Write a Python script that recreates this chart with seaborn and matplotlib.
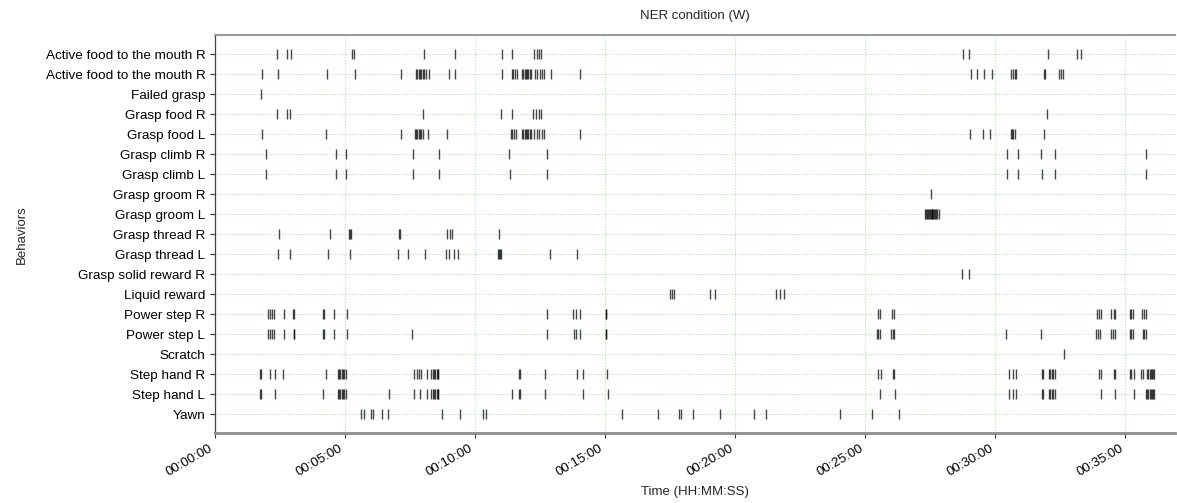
"""
Ethogram of the NER condition (W): behavior events over the session time.
"""

import matplotlib
matplotlib.use("Agg")
import matplotlib.pyplot as plt
from matplotlib.ticker import FuncFormatter, MultipleLocator
import pandas as pd
import seaborn as sns

# behaviors, top to bottom
behaviors = [
    "Active food to the mouth R",
    "Active food to the mouth R",
    "Failed grasp",
    "Grasp food R",
    "Grasp food L",
    "Grasp climb R",
    "Grasp climb L",
    "Grasp groom R",
    "Grasp groom L",
    "Grasp thread R",
    "Grasp thread L",
    "Grasp solid reward R",
    "Liquid reward",
    "Power step R",
    "Power step L",
    "Scratch",
    "Step hand R",
    "Step hand L",
    "Yawn",
]

# event onsets in seconds, one list per behavior
active_food_r1 = [144, 167, 175, 316, 321, 481, 553, 661, 686, 736, 742, 748, 753,
                  1726, 1739, 1922, 1988, 1997]
active_food_r2 = [109, 146, 258, 322, 429, 464, 467, 470, 473, 476, 479, 482, 487, 493,
                  539, 553, 661, 684, 687, 691, 696, 708, 711, 714, 717, 720, 723, 726,
                  729, 738, 743, 749, 755, 760, 774, 843, 1743, 1758, 1774, 1792, 1836,
                  1840, 1845, 1847, 1913, 1915, 1948, 1952, 1957]
failed_grasp = [106]
grasp_food_r = [142, 166, 173, 479, 660, 686, 734, 741, 747, 753, 1920]
grasp_food_l = [109, 256, 428, 461, 464, 467, 470, 473, 476, 480, 492, 536, 682, 685,
                689, 694, 708, 711, 714, 717, 720, 723, 726, 729, 736, 742, 748, 754,
                760, 841, 1741, 1771, 1789, 1836, 1839, 1842, 1846, 1913]
grasp_climb_r = [117, 278, 302, 456, 516, 678, 766, 1827, 1853, 1906, 1937, 2147]
grasp_climb_l = [117, 280, 302, 456, 516, 680, 766, 1828, 1853, 1907, 1937, 2147]
grasp_groom_r = [1651]
grasp_groom_l = [1639, 1641, 1643, 1645, 1647, 1649, 1651, 1653, 1655, 1657, 1659, 1661,
                 1663, 1665, 1671]
grasp_thread_r = [148, 265, 309, 311, 314, 424, 427, 535, 541, 547, 655]
grasp_thread_l = [145, 172, 260, 311, 422, 445, 485, 532, 539, 551, 560, 652, 655, 658,
                  660, 772, 836]
grasp_solid_reward_r = [1723, 1739]
liquid_reward = [1050, 1054, 1059, 1141, 1154, 1295, 1303, 1312]
power_step_r = [122, 127, 131, 136, 159, 181, 183, 248, 251, 275, 304, 767, 827, 832,
                843, 902, 903, 1529, 1533, 1562, 1567, 2035, 2039, 2044, 2068, 2073,
                2077, 2111, 2114, 2117, 2138, 2143, 2147]
power_step_l = [122, 127, 131, 136, 159, 182, 183, 248, 252, 275, 305, 455, 767, 828,
                832, 841, 902, 903, 1527, 1530, 1534, 1559, 1563, 1567, 1825, 1905,
                2033, 2037, 2042, 2067, 2071, 2076, 2111, 2114, 2117, 2140, 2144, 2147]
scratch = [1958]
step_hand_r = [104, 105, 126, 138, 156, 256, 283, 286, 289, 292, 295, 298, 302, 460,
               466, 471, 476, 488, 499, 502, 505, 508, 511, 514, 515, 702, 703, 761,
               835, 849, 904, 1529, 1536, 1565, 1566, 1831, 1840, 1849, 1909, 1910,
               1924, 1927, 1930, 1933, 1937, 2039, 2044, 2074, 2077, 2110, 2114, 2120,
               2136, 2142, 2150, 2153, 2156, 2159, 2162, 2165, 2167]
step_hand_l = [104, 105, 138, 248, 283, 286, 289, 292, 295, 298, 302, 401, 459, 473,
               488, 499, 502, 505, 508, 511, 514, 515, 685, 702, 703, 761, 850, 906,
               1535, 1568, 1831, 1840, 1849, 1909, 1910, 1924, 1927, 1930, 1933, 1937,
               2044, 2077, 2120, 2147, 2150, 2153, 2156, 2159, 2162, 2165, 2167]
yawn = [336, 344, 359, 364, 385, 400, 524, 565, 618, 625, 940, 1022, 1070, 1074, 1102,
        1166, 1243, 1271, 1443, 1516, 1578]

events = [
    active_food_r1, active_food_r2, failed_grasp, grasp_food_r, grasp_food_l,
    grasp_climb_r, grasp_climb_l, grasp_groom_r, grasp_groom_l, grasp_thread_r,
    grasp_thread_l, grasp_solid_reward_r, liquid_reward, power_step_r, power_step_l,
    scratch, step_hand_r, step_hand_l, yawn,
]

session_end = 2215  # seconds

# long table: one row per event
rows = []
for i, times in enumerate(events):
    for t in times:
        rows.append({"row": i, "time": t})
df = pd.DataFrame(rows)


def hhmmss(x, pos=None):
    x = int(round(x))
    return f"{x // 3600:02d}:{(x % 3600) // 60:02d}:{x % 60:02d}"


sns.set_style("white")
plt.rcParams["font.family"] = ["Liberation Sans", "DejaVu Sans"]

fig = plt.figure(figsize=(11.77, 5.03), dpi=100)
ax = fig.add_axes([0.1827, 0.139, 0.8157, 0.791])

sns.scatterplot(
    data=df,
    x="time",
    y="row",
    marker="|",
    s=60,
    color="black",
    alpha=0.72,
    linewidth=1.0,
    legend=False,
    ax=ax,
)

ax.set_xlim(0, session_end)
ax.set_ylim(len(behaviors) - 0.05, -0.95)
ax.set_yticks(range(len(behaviors)))
ax.set_yticklabels(behaviors, fontsize=9.7)
ax.xaxis.set_major_locator(MultipleLocator(300))
ax.xaxis.set_major_formatter(FuncFormatter(hhmmss))
for lab in ax.get_xticklabels():
    lab.set_rotation(30)
    lab.set_ha("right")
    lab.set_fontsize(9.5)

ax.grid(True, color="#5cb85c", alpha=0.45, linestyle=(0, (1, 1.5)), linewidth=0.8)
ax.set_axisbelow(True)

ax.tick_params(axis="both", which="major", length=3.5, width=0.8, colors="#333333",
               direction="out", bottom=True, left=True)
ax.tick_params(axis="both", labelcolor="black")

ax.spines["right"].set_visible(False)
ax.spines["top"].set_color("#9a9a9a")
ax.spines["top"].set_linewidth(1.5)
ax.spines["bottom"].set_color("#8c8c8c")
ax.spines["bottom"].set_linewidth(2.0)
ax.spines["left"].set_color("#444444")
ax.spines["left"].set_linewidth(0.9)

ax.set_title("NER condition (W)", fontsize=9.5, pad=12)
ax.set_xlabel("Time (HH:MM:SS)", fontsize=9.5, labelpad=5)
ax.set_ylabel("Behaviors", fontsize=9.5, labelpad=13)

fig.savefig("out.png", dpi=100)
